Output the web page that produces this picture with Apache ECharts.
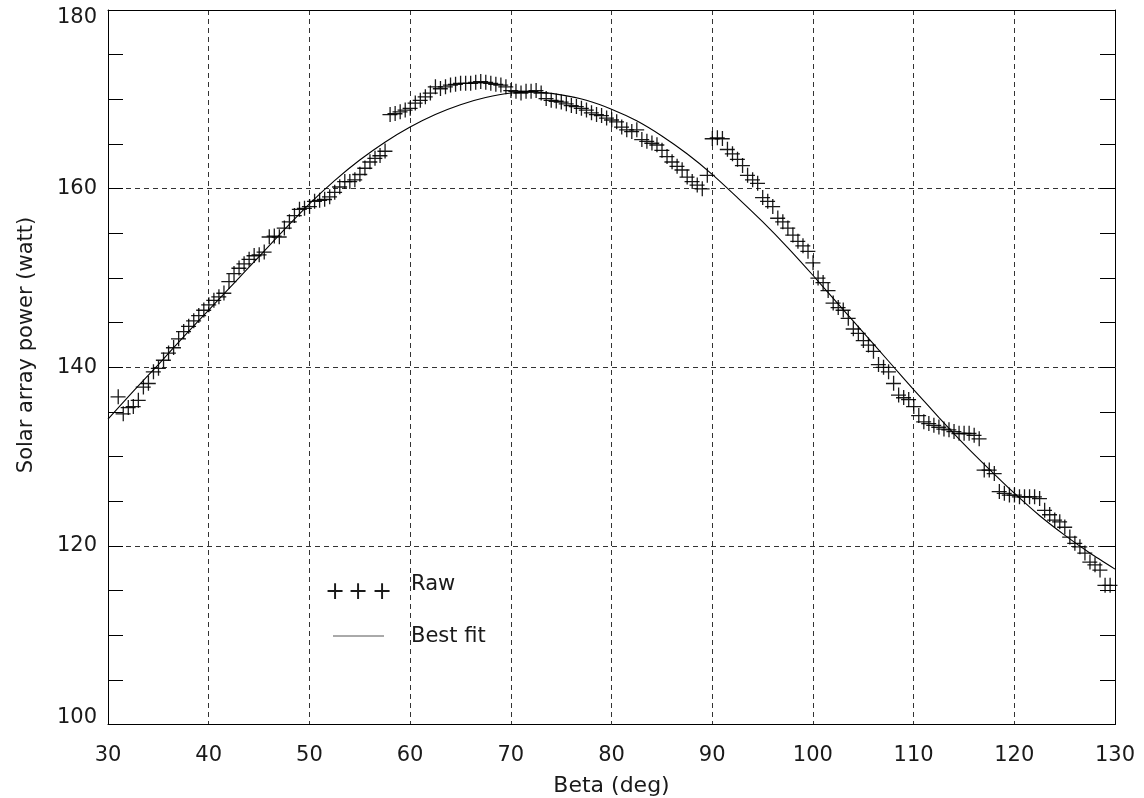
<!DOCTYPE html>
<html>
<head>
<meta charset="utf-8">
<script src="https://cdn.jsdelivr.net/npm/echarts@6/dist/echarts.min.js"></script>
<style>html,body{margin:0;padding:0;background:#fff;}#c{width:1144px;height:798px;}</style>
</head>
<body>
<div id="c"></div>
<script>
// Raw measurements: beta (deg) and solar array power (watt)
var rawBeta = [31.0,31.5,32.0,32.5,33.0,33.5,34.0,34.5,35.0,35.5,36.0,36.5,37.0,37.5,38.0,38.5,39.0,39.5,40.0,40.5,41.0,41.5,42.0,42.5,43.0,43.5,44.0,44.5,45.0,45.5,46.0,46.5,47.0,47.5,48.0,48.5,49.0,49.5,50.0,50.5,51.0,51.5,52.0,52.5,53.0,53.5,54.0,54.5,55.0,55.5,56.0,56.5,57.0,57.5,58.0,58.5,59.0,59.5,60.0,60.5,61.0,61.5,62.0,62.5,63.0,63.5,64.0,64.5,65.0,65.5,66.0,66.5,67.0,67.5,68.0,68.5,69.0,69.5,70.0,70.5,71.0,71.5,72.0,72.5,73.0,73.5,74.0,74.5,75.0,75.5,76.0,76.5,77.0,77.5,78.0,78.5,79.0,79.5,80.0,80.5,81.0,81.5,82.0,82.5,83.0,83.5,84.0,84.5,85.0,85.5,86.0,86.5,87.0,87.5,88.0,88.5,89.0,89.5,90.0,90.5,91.0,91.5,92.0,92.5,93.0,93.5,94.0,94.5,95.0,95.5,96.0,96.5,97.0,97.5,98.0,98.5,99.0,99.5,100.0,100.5,101.0,101.5,102.0,102.5,103.0,103.5,104.0,104.5,105.0,105.5,106.0,106.5,107.0,107.5,108.0,108.5,109.0,109.5,110.0,110.5,111.0,111.5,112.0,112.5,113.0,113.5,114.0,114.5,115.0,115.5,116.0,116.5,117.0,117.5,118.0,118.5,119.0,119.5,120.0,120.5,121.0,121.5,122.0,122.5,123.0,123.5,124.0,124.5,125.0,125.5,126.0,126.5,127.0,127.5,128.0,128.5,129.0,129.5];
var rawPower = [136.7,134.8,135.5,135.6,136.3,137.8,138.2,139.5,139.9,140.8,141.6,142.2,143.2,144.0,144.6,145.2,145.8,146.4,147.0,147.5,147.9,148.3,149.6,150.5,151.1,151.6,152.1,152.5,152.6,152.9,154.6,154.7,154.6,155.6,156.3,157.0,157.7,157.8,158.0,158.6,158.7,158.8,159.1,159.6,160.2,160.8,160.8,161.0,161.6,162.3,163.0,163.4,163.7,164.2,168.3,168.4,168.6,168.8,169.0,169.6,169.9,170.3,170.7,171.4,171.2,171.4,171.6,171.7,171.8,171.8,171.8,171.9,172.0,171.9,171.8,171.7,171.6,171.4,171.0,170.9,170.7,170.9,170.9,171.0,170.7,170.1,169.9,169.8,169.7,169.5,169.3,169.2,169.0,168.8,168.5,168.3,168.2,167.9,167.7,167.5,166.9,166.6,166.4,166.6,165.5,165.3,165.1,164.9,164.3,163.6,163.0,162.5,162.1,161.3,160.8,160.4,160.0,161.5,165.6,165.7,165.6,164.4,163.9,163.3,162.6,161.5,161.0,160.6,159.0,158.6,158.0,156.7,156.3,155.6,154.8,154.1,153.6,153.0,151.7,150.0,149.5,148.6,147.2,146.7,146.4,145.5,144.3,143.8,143.0,142.5,141.8,140.3,140.0,139.5,138.2,136.9,136.6,136.4,135.6,134.6,133.9,133.7,133.5,133.3,133.1,133.0,132.8,132.6,132.6,132.6,132.4,132.0,128.5,128.5,128.1,126.1,125.9,125.7,125.7,125.5,125.5,125.5,125.5,125.3,124.0,123.5,122.9,122.7,122.1,121.0,120.3,119.9,119.2,118.2,117.9,117.3,115.6,115.6];

// Best fit curve
var fitBeta  = [30,32.5,35,37.5,40,42.5,45,47.5,50,52.5,55,57.5,60,62.5,65,67.5,70,72.5,75,77.5,80,82.5,85,87.5,90,92.5,95,97.5,100,102.5,105,107.5,110,112.5,115,117.5,120,122.5,125,127.5,130];
var fitPower = [134.2,137.3,140.3,143.4,146.4,149.4,152.4,155.4,158.3,160.9,163.2,165.2,166.9,168.3,169.4,170.2,170.7,170.8,170.5,169.9,168.9,167.6,165.9,163.9,161.6,159.0,156.3,153.4,150.3,147.1,143.9,140.7,137.5,134.4,131.4,128.6,125.9,123.4,121.2,119.2,117.4];

var xTicks = [30,40,50,60,70,80,90,100,110,120,130];
var yTicks = [100,120,140,160,180];

var xAxisName = 'Beta (deg)';
var yAxisName = 'Solar array power (watt)';
var legendRaw = 'Raw';
var legendFit = 'Best fit';

var FONT = 'DejaVu Sans';
var TXT = '#1a1a1a';

var rawData = rawBeta.map(function(b, i){ return [b, rawPower[i]]; });
var fitData = fitBeta.map(function(b, i){ return [b, fitPower[i]]; });

var plus = 'path://M7,0h1.3v7h6.7v1.3h-6.7v6.7h-1.3v-6.7h-7v-1.3h7z';

var chart = echarts.init(document.getElementById('c'), null, {renderer:'canvas'});
var dash = {color:'#333', width:1, type:[5,4]};

chart.setOption({
  animation: false,
  backgroundColor: '#fff',
  grid: {left:108, right:29, top:10, bottom:73.5, containLabel:false, outerBoundsMode:'none'},
  xAxis: [{
    type:'value', min:xTicks[0], max:xTicks[xTicks.length-1], interval:10,
    position:'bottom',
    name: xAxisName, nameLocation:'middle', nameGap:51,
    nameTextStyle:{fontFamily:FONT, fontSize:22, color:TXT},
    axisLine:{show:true, lineStyle:{color:'#000', width:1}},
    axisTick:{show:false},
    axisLabel:{fontFamily:FONT, fontSize:21, color:TXT, margin:21},
    splitLine:{show:true, lineStyle:dash}
  },{
    type:'value', min:xTicks[0], max:xTicks[xTicks.length-1], interval:10,
    position:'top',
    axisLine:{show:true, lineStyle:{color:'#000', width:1}},
    axisTick:{show:false}, axisLabel:{show:false}, splitLine:{show:false}
  }],
  yAxis: [{
    type:'value', min:yTicks[0], max:yTicks[yTicks.length-1], interval:20,
    position:'left',
    axisLine:{show:true, lineStyle:{color:'#000', width:1}},
    axisTick:{show:true, inside:true, length:15, lineStyle:{color:'#000'}},
    minorTick:{show:true, splitNumber:4, length:15, lineStyle:{color:'#000'}},
    axisLabel:{fontFamily:FONT, fontSize:21, color:TXT, margin:11,
      formatter:function(v){
        if (v === 180) return '{t|180}';
        if (v === 100) return '{b|100}';
        return String(v);
      },
      rich:{
        t:{fontFamily:FONT, fontSize:21, color:TXT, padding:[16,0,0,0]},
        b:{fontFamily:FONT, fontSize:21, color:TXT, padding:[0,0,14,0]}
      }
    },
    splitLine:{show:true, lineStyle:dash}
  },{
    type:'value', min:yTicks[0], max:yTicks[yTicks.length-1], interval:20,
    position:'right',
    axisLine:{show:true, lineStyle:{color:'#000', width:1}},
    axisTick:{show:true, inside:true, length:15, lineStyle:{color:'#000'}},
    minorTick:{show:true, splitNumber:4, length:15, lineStyle:{color:'#000'}},
    axisLabel:{show:false}, splitLine:{show:false}
  }],
  series: [{
    name: legendFit, type:'line', data: fitData, smooth:0.25,
    showSymbol:false, symbol:'none',
    lineStyle:{color:'#000', width:1.1}, z:3
  },{
    name: legendRaw, type:'scatter', data: rawData,
    symbol: plus, symbolSize:15,
    itemStyle:{color:'#000', opacity:0.9}, z:4
  }],
  graphic: [
    {type:'text', x:27, y:345, rotation:Math.PI/2,
     style:{text:yAxisName, fontFamily:FONT, fontSize:21, fill:TXT, align:'center', verticalAlign:'middle'}},
    {type:'text', x:335, y:593, style:{text:'+', fontFamily:FONT, fontSize:24, fill:TXT, align:'center', verticalAlign:'middle'}},
    {type:'text', x:358, y:593, style:{text:'+', fontFamily:FONT, fontSize:24, fill:TXT, align:'center', verticalAlign:'middle'}},
    {type:'text', x:382, y:593, style:{text:'+', fontFamily:FONT, fontSize:24, fill:TXT, align:'center', verticalAlign:'middle'}},
    {type:'text', x:411, y:585, style:{text:legendRaw, fontFamily:FONT, fontSize:21, fill:TXT, align:'left', verticalAlign:'middle'}},
    {type:'line', shape:{x1:333, y1:636, x2:384, y2:636}, style:{stroke:'#555', lineWidth:1}},
    {type:'text', x:411, y:637, style:{text:legendFit, fontFamily:FONT, fontSize:21, fill:TXT, align:'left', verticalAlign:'middle'}}
  ]
});
</script>
</body>
</html>
